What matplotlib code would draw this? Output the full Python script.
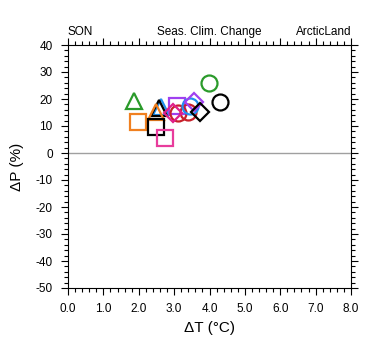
import matplotlib
matplotlib.use("Agg")
import matplotlib.pyplot as plt
from matplotlib.ticker import MultipleLocator

plt.rcParams['font.family'] = ['Liberation Sans', 'DejaVu Sans']

# data (delta T in degC, delta P in %)
dT = [1.87, 1.99, 3.99, 4.29, 2.63, 2.58, 2.50, 2.50, 2.74, 3.07, 3.12, 3.40, 2.97, 3.45, 3.56, 3.73]
dP = [19.4, 11.6, 26.0, 18.8, 16.9, 16.8, 15.1, 9.7, 5.4, 17.4, 14.7, 15.3, 14.7, 17.3, 18.8, 15.3]
markers = ['^', 's', 'o', 'o', '^', '^', '^', 's', 's', 's', 'o', 'o', 'D', 'o', 'D', 'D']
colors = ['#2a9a2a', '#f08020', '#2a9a2a', '#000000', '#2090f0', '#000000', '#f08020', '#000000',
          '#e83c9c', '#a040f0', '#c8202a', '#c8202a', '#e0208a', '#2090f0', '#a040f0', '#000000']
sizes = [12, 11.5, 11.5, 11.5, 12, 12, 12, 11.5, 11.5, 11.5, 11.5, 11.5, 9, 11.5, 9, 9]

xticks = [0, 1, 2, 3, 4, 5, 6, 7, 8]
yticks = [40, 30, 20, 10, 0, -10, -20, -30, -40, -50]

fig = plt.figure(figsize=(3.8, 3.55), dpi=100)
ax = fig.add_axes([68/380, 1-288/355, (351-68)/380, (288-45)/355])

ax.axhline(0, color='#a0a0a0', lw=1.0, zorder=1)
for x, y, m, c, s in zip(dT, dP, markers, colors, sizes):
    ax.plot([x], [y], marker=m, ms=s, mfc='none', mec=c, mew=1.6, ls='none', zorder=3)

ax.set_xlim(0, 8)
ax.set_ylim(-50, 40)
ax.set_xticks(xticks)
ax.set_xticklabels([f"{v:.1f}" for v in xticks])
ax.set_yticks(yticks)
ax.set_yticklabels([str(v) for v in yticks])
ax.xaxis.set_minor_locator(MultipleLocator(0.2))
ax.yaxis.set_minor_locator(MultipleLocator(2))
ax.tick_params(which='both', direction='out', top=True, right=True, labelsize=8.5, width=0.8)
ax.tick_params(which='major', length=5, pad=6)
ax.tick_params(which='minor', length=3)
for sp in ax.spines.values():
    sp.set_linewidth(0.8)

ax.set_xlabel('ΔT (°C)', fontsize=11, labelpad=4)
ax.set_ylabel('ΔP (%)', fontsize=11, labelpad=8)

ax.text(0.0, 1.03, 'SON', transform=ax.transAxes, ha='left', va='bottom', fontsize=8.5)
ax.text(0.5, 1.03, 'Seas. Clim. Change', transform=ax.transAxes, ha='center', va='bottom', fontsize=8.5)
ax.text(1.0, 1.03, 'ArcticLand', transform=ax.transAxes, ha='right', va='bottom', fontsize=8.5)

fig.savefig('out.png', dpi=100)
